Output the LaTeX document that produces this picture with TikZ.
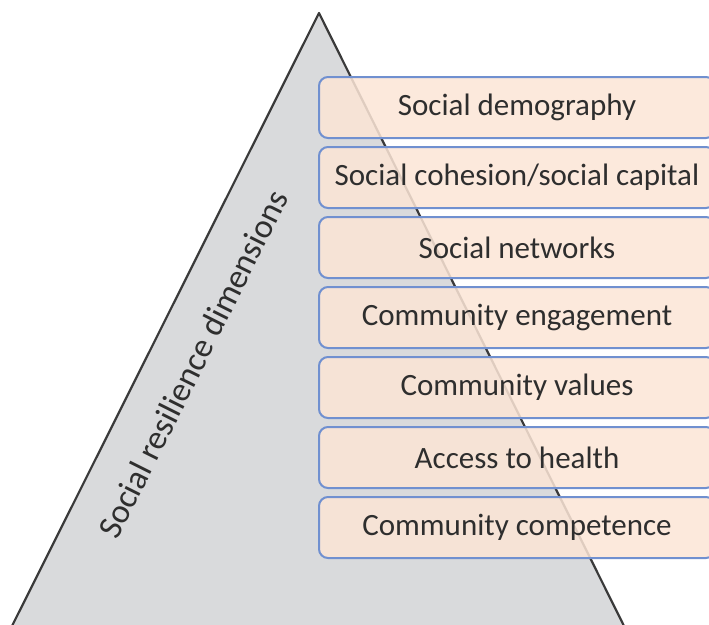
\documentclass[tikz,border=0pt]{standalone}
\usepackage{fontspec}
\setmainfont{Carlito}
\begin{document}
\begin{tikzpicture}[x=1pt,y=-1pt,
  pyramid/.style={fill=pyrfill,draw=pyredge,line width=2.2pt,line join=round},
  dimbox/.style={rectangle,rounded corners=9pt,draw=boxedge,line width=2pt,
    fill=boxfill,fill opacity=0.86,text opacity=1,text=txt,
    minimum width=396pt,minimum height=61pt,inner sep=0pt,
    font=\fontsize{31}{36}\selectfont},
  sidelabel/.style={text=txt,font=\fontsize{34}{40}\selectfont,rotate=63.4,inner sep=0pt}]
\definecolor{pyrfill}{HTML}{D9DADC}
\definecolor{pyredge}{HTML}{3A3A3A}
\definecolor{boxfill}{HTML}{FBE5D6}
\definecolor{boxedge}{HTML}{7090D0}
\definecolor{txt}{HTML}{2E2E2E}
\useasboundingbox (0,0) rectangle (709,624);
\clip (0,0) rectangle (709,624);
% pyramid
\coordinate (apex) at (319,13);
\coordinate (bl) at (10,630);
\coordinate (br) at (626,630);
\draw[pyramid] (apex) -- (br) -- (bl) -- cycle;
\node[sidelabel] (lbl) at (193,364) {Social resilience dimensions};
% dimension boxes
\node[dimbox] (b1) at (517,107.5) {Social demography};
\node[dimbox] (b2) at (517,177.5) {Social cohesion/social capital};
\node[dimbox] (b3) at (517,247.5) {Social networks};
\node[dimbox] (b4) at (517,317.5) {Community engagement};
\node[dimbox] (b5) at (517,387.5) {Community values};
\node[dimbox] (b6) at (517,457.5) {Access to health};
\node[dimbox] (b7) at (517,527.5) {Community competence};
\end{tikzpicture}
\end{document}
